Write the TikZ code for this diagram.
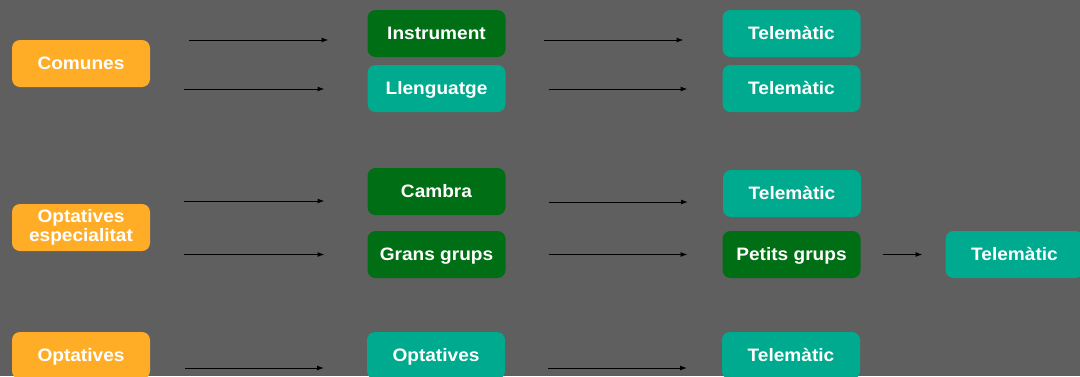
\documentclass[tikz,border=0pt]{standalone}
\usepackage{fontspec}
\newfontfamily\boxfont[FakeStretch=1.06]{Liberation Sans}
\usetikzlibrary{arrows.meta, positioning, calc}

\definecolor{bggray}{RGB}{95,95,95}
\definecolor{boxorange}{RGB}{255,173,38}
\definecolor{boxgreen}{RGB}{0,110,20}
\definecolor{boxteal}{RGB}{0,170,142}

\begin{document}
\begin{tikzpicture}[
    x=1pt, y=1pt,
    font=\boxfont\bfseries\fontsize{18}{18.7}\selectfont,
    box/.style={rectangle, text=white, minimum width=138pt, minimum height=47pt, inner sep=2pt, outer sep=0pt, align=center, rounded corners=8pt},
    oneline/.style={text height=16pt, text depth=4pt},
    orangebox/.style={box, fill=boxorange},
    greenbox/.style={box, oneline, fill=boxgreen},
    tealbox/.style={box, oneline, fill=boxteal},
    arrow/.style={-{Latex[length=7pt, width=5pt]}, line width=1pt, draw=black}
]

% --- BACKGROUND ---
\fill [bggray] (0,0) rectangle (1080,-376);
\useasboundingbox (0,0) rectangle (1080,-376);

% --- NODES ---
% Comunes
\node (comunes) [orangebox, oneline] at (81,-63.5) {Comunes};
\node (instr) [greenbox] at (436.5,-33.5) {Instrument};
\node (llen) [tealbox, below=8pt of instr] {Llenguatge};
\node (tel1) [tealbox, right=217pt of instr] {Telemàtic};
\node (tel2) [tealbox, right=217pt of llen] {Telemàtic};

% Optatives especialitat
\node (optesp) [orangebox] at (81,-227.5) {Optatives\\especialitat};
\node (cambra) [greenbox] at (436.5,-191.5) {Cambra};
\node (grans) [greenbox, below=16pt of cambra] {Grans grups};
\node (tel3) [tealbox] at (792,-193.5) {Telemàtic};
\node (petits) [greenbox, right=217pt of grans] {Petits grups};
\node (tel4) [tealbox, right=85pt of petits] {Telemàtic};

% Optatives
\node (opt) [orangebox, oneline] at (81,-355.5) {Optatives};
\node (optmid) [tealbox, right=217pt of opt] {Optatives};
\node (tel5) [tealbox, right=217pt of optmid] {Telemàtic};

% --- CONNECTIONS ---
\draw [arrow] ($(comunes.east |- instr.west)+(39,-6.5)$) -- ($(instr.west)+(-39,-6.5)$);
\draw [arrow] ($(comunes.east |- llen.west)+(34,-0.5)$) -- ($(llen.west)+(-43,-0.5)$);
\draw [arrow] ($(instr.east)+(38,-6.5)$) -- ($(tel1.west)+(-39,-6.5)$);
\draw [arrow] ($(llen.east)+(43,-0.5)$) -- ($(tel2.west)+(-35,-0.5)$);

\draw [arrow] ($(optesp.east |- cambra.west)+(34,-9.5)$) -- ($(cambra.west)+(-43,-9.5)$);
\draw [arrow] ($(optesp.east |- grans.west)+(34,0)$) -- ($(grans.west)+(-43,0)$);
\draw [arrow] ($(cambra.east)+(43,-10.5)$) -- ($(tel3.west)+(-35,-8.5)$);
\draw [arrow] ($(grans.east)+(43,0)$) -- ($(petits.west)+(-35,0)$);
\draw [arrow] ($(petits.east)+(22,0)$) -- ($(tel4.west)+(-23,0)$);

\draw [arrow] ($(opt.east)+(35,-12.5)$) -- ($(optmid.west)+(-43,-12.5)$);
\draw [arrow] ($(optmid.east)+(43,-12.5)$) -- ($(tel5.west)+(-35,-12.5)$);

\end{tikzpicture}
\end{document}
